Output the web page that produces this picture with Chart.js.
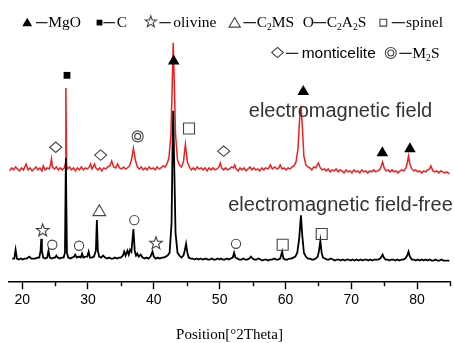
<!DOCTYPE html>
<html>
<head>
<meta charset="utf-8">
<script src="https://cdn.jsdelivr.net/npm/chart.js@4"></script>
<style>
  html, body { margin: 0; padding: 0; background: #fff; }
  #wrap { width: 454px; height: 343px; }
</style>
</head>
<body>
<div id="wrap"><canvas id="xrd"></canvas></div>
<script>
// red trace: with electromagnetic field (stacked above)
const redTheta = [
  18.1, 18.4, 18.7, 19.0, 19.3, 19.6, 19.9, 20.2, 20.6, 20.9,
  21.2, 21.5, 21.8, 22.1, 22.4, 22.7, 23.0, 23.2, 23.5, 23.8,
  24.1, 24.3, 24.45, 24.6, 24.9, 25.2, 25.5, 25.8, 26.1, 26.4,
  26.55, 26.64, 26.75, 26.9, 27.2, 27.5, 27.8, 28.1, 28.4, 28.7,
  29.0, 29.3, 29.6, 29.9, 30.2, 30.4, 30.6, 30.8, 31.0, 31.2,
  31.5, 31.8, 32.1, 32.4, 32.7, 33.0, 33.3, 33.6, 33.9, 34.2,
  34.5, 34.8, 35.1, 35.4, 35.7, 36.0, 36.3, 36.6, 36.9, 37.2,
  37.5, 37.8, 38.1, 38.4, 38.7, 39.0, 39.3, 39.6, 39.9, 40.2,
  40.5, 40.8, 41.1, 41.4, 41.7, 42.0, 42.3, 42.6, 42.8, 42.95,
  43.1, 43.3, 43.6, 43.9, 44.2, 44.5, 44.8, 45.1, 45.4, 45.7,
  46.0, 46.3, 46.6, 46.9, 47.2, 47.5, 47.8, 48.1, 48.4, 48.7,
  49.0, 49.3, 49.6, 49.9, 50.1, 50.3, 50.6, 50.9, 51.2, 51.5,
  51.8, 52.1, 52.3, 52.5, 52.8, 53.1, 53.4, 53.7, 54.0, 54.3,
  54.6, 54.9, 55.2, 55.5, 55.8, 56.1, 56.4, 56.7, 57.0, 57.4,
  57.7, 58.0, 58.4, 58.7, 59.0, 59.2, 59.5, 59.8, 60.1, 60.4,
  60.7, 61.0, 61.3, 61.6, 61.9, 62.15, 62.35, 62.55, 62.8, 63.1,
  63.4, 63.7, 64.0, 64.3, 64.6, 65.0, 65.3, 65.6, 65.9, 66.2,
  66.5, 66.8, 67.1, 67.4, 67.7, 68.0, 68.3, 68.6, 68.9, 69.2,
  69.5, 69.8, 70.1, 70.4, 70.7, 71.0, 71.3, 71.6, 71.9, 72.2,
  72.5, 72.8, 73.1, 73.4, 73.7, 74.0, 74.3, 74.5, 74.76, 75.0,
  75.3, 75.6, 75.9, 76.2, 76.5, 76.8, 77.1, 77.4, 77.7, 78.0,
  78.3, 78.5, 78.7, 78.9, 79.2, 79.5, 79.8, 80.1, 80.4, 80.7,
  81.0, 81.3, 81.6, 81.9, 82.1, 82.4, 82.7, 83.0, 83.3, 83.6,
  83.9, 84.2, 84.5, 84.9
];
const redCounts = [
  113, 116, 114, 117, 115, 113, 116, 114, 120, 114,
  116, 113, 115, 117, 114, 116, 113, 118, 114, 116,
  115, 119, 125, 117, 115, 117, 114, 116, 114, 116,
  120, 197, 119, 115, 117, 114, 116, 113, 116, 114,
  117, 114, 116, 115, 117, 120, 115, 117, 120, 116,
  114, 116, 113, 116, 115, 117, 118, 123, 117, 116,
  120, 116, 115, 117, 115, 116, 118, 124, 136, 124,
  117, 115, 117, 114, 116, 114, 117, 115, 116, 114,
  117, 115, 116, 118, 117, 120, 126, 150, 200, 243,
  205, 150, 124, 119, 117, 122, 140, 122, 117, 114,
  116, 114, 117, 115, 116, 114, 116, 113, 116, 114,
  116, 114, 115, 117, 121, 116, 114, 116, 114, 115,
  117, 116, 119, 115, 113, 116, 114, 116, 113, 115,
  117, 114, 116, 114, 115, 113, 116, 114, 116, 115,
  119, 115, 117, 115, 116, 119, 115, 116, 114, 116,
  115, 117, 118, 122, 135, 165, 179, 160, 128, 119,
  117, 116, 114, 117, 116, 121, 116, 114, 115, 113,
  115, 112, 114, 113, 115, 112, 114, 113, 111, 114,
  112, 113, 111, 114, 112, 113, 111, 114, 112, 113,
  111, 113, 112, 114, 112, 113, 114, 117, 122, 116,
  113, 114, 112, 114, 112, 113, 111, 113, 114, 113,
  116, 121, 128, 120, 115, 113, 114, 112, 113, 111,
  113, 112, 114, 115, 118, 113, 112, 113, 111, 113,
  112, 111, 112, 110
];

// black trace: electromagnetic field-free
const blackTheta = [
  18.5, 18.8, 19.0, 19.2, 19.5, 19.8, 20.1, 20.4, 20.7, 21.1,
  21.4, 21.7, 22.0, 22.3, 22.6, 22.8, 22.9, 23.0, 23.2, 23.5,
  23.8, 24.0, 24.2, 24.5, 24.8, 25.0, 25.2, 25.4, 25.7, 26.0,
  26.3, 26.5, 26.64, 26.8, 27.0, 27.3, 27.6, 27.9, 28.05, 28.3,
  28.6, 28.9, 29.1, 29.3, 29.6, 29.9, 30.1, 30.3, 30.6, 30.9,
  31.2, 31.35, 31.5, 31.7, 32.0, 32.3, 32.6, 32.9, 33.2, 33.5,
  33.8, 34.1, 34.4, 34.7, 35.0, 35.3, 35.5, 35.7, 36.0, 36.2,
  36.4, 36.6, 36.9, 37.1, 37.3, 37.5, 37.7, 38.0, 38.3, 38.6,
  38.9, 39.2, 39.5, 39.8, 40.0, 40.3, 40.6, 40.9, 41.2, 41.5,
  41.8, 42.1, 42.4, 42.7, 42.85, 42.95, 43.1, 43.3, 43.6, 43.9,
  44.2, 44.5, 44.7, 44.9, 45.1, 45.3, 45.6, 45.9, 46.2, 46.5,
  46.8, 47.1, 47.4, 47.9, 48.2, 48.5, 48.8, 49.1, 49.4, 49.7,
  50.0, 50.2, 50.5, 50.8, 51.1, 51.4, 51.7, 52.0, 52.2, 52.4,
  52.7, 53.0, 53.3, 53.6, 53.9, 54.2, 54.5, 54.75, 55.0, 55.3,
  55.6, 55.9, 56.2, 56.5, 56.8, 57.1, 57.4, 57.7, 58.0, 58.3,
  58.6, 58.9, 59.2, 59.5, 59.7, 60.0, 60.3, 60.6, 60.9, 61.2,
  61.5, 61.8, 62.1, 62.35, 62.55, 62.8, 63.1, 63.4, 63.7, 64.0,
  64.3, 64.6, 64.9, 65.1, 65.3, 65.5, 65.7, 66.0, 66.3, 66.6,
  66.9, 67.2, 67.5, 67.8, 68.1, 68.4, 68.7, 69.0, 69.3, 69.6,
  69.9, 70.2, 70.5, 70.8, 71.1, 71.4, 71.7, 72.0, 72.3, 72.6,
  72.9, 73.2, 73.5, 73.8, 74.1, 74.4, 74.6, 74.76, 74.95, 75.2,
  75.5, 75.8, 76.1, 76.4, 76.7, 77.0, 77.3, 77.6, 77.9, 78.2,
  78.5, 78.7, 78.9, 79.2, 79.5, 79.8, 80.1, 80.4, 80.7, 81.0,
  81.3, 81.6, 81.9, 82.2, 82.5, 82.8, 83.1, 83.4, 83.7, 84.0,
  84.3, 84.6, 84.9
];
const blackCounts = [
  24, 24, 33, 24, 23, 24, 23, 24, 24, 26,
  24, 24, 24, 25, 25, 32, 44, 32, 25, 24,
  25, 32, 25, 24, 25, 25, 27, 25, 24, 25,
  25, 30, 126, 30, 25, 24, 25, 26, 28, 25,
  26, 25, 29, 25, 26, 26, 31, 25, 25, 26,
  32, 63, 32, 26, 25, 27, 25, 24, 25, 24,
  24, 25, 24, 25, 25, 27, 31, 27, 32, 28,
  33, 31, 54, 32, 27, 29, 26, 28, 25, 24,
  25, 24, 26, 31, 26, 24, 25, 24, 25, 25,
  26, 27, 30, 60, 140, 174, 120, 50, 30, 27,
  25, 27, 32, 39, 30, 25, 24, 24, 23, 24,
  23, 24, 23, 24, 23, 23, 24, 23, 23, 24,
  23, 24, 23, 23, 24, 23, 24, 25, 30, 25,
  24, 23, 23, 24, 23, 23, 24, 26, 24, 23,
  23, 24, 23, 22, 23, 23, 22, 23, 23, 24,
  23, 23, 24, 31, 24, 23, 23, 24, 24, 25,
  26, 30, 45, 68, 48, 30, 26, 24, 24, 23,
  23, 24, 26, 32, 42, 30, 25, 24, 23, 23,
  24, 23, 22, 23, 23, 22, 23, 22, 23, 23,
  22, 23, 22, 23, 22, 23, 22, 23, 23, 22,
  23, 22, 23, 23, 23, 24, 26, 28, 25, 23,
  23, 22, 23, 23, 22, 23, 22, 23, 23, 24,
  27, 31, 26, 23, 23, 22, 23, 22, 23, 22,
  23, 22, 23, 22, 22, 23, 22, 22, 23, 22,
  22, 22, 22
];

// phase marks over the peaks
const markTheta = [25.1, 26.81, 31.93, 37.55, 43.02, 45.35, 50.62, 62.71, 74.72, 78.92,
                   23.12, 24.58, 28.64, 31.72, 37.04, 40.33, 52.49, 59.58, 65.51];
const markLevel = [137, 210, 129, 148, 226, 156, 133, 195, 133, 137,
                   53, 38, 37, 73, 63, 40, 39, 38, 49];
const markKind = ['dia', 'sq', 'dia', 'dcirc', 'tri', 'osq', 'dia', 'tri', 'tri', 'tri',
                  'star', 'circ', 'circ', 'otri', 'circ', 'star', 'circ', 'osq', 'osq'];

const majorTicks = [20, 30, 40, 50, 60, 70, 80];
const minorTicks = [25, 35, 45, 55, 65, 75, 85];

const SERIF = '"Liberation Serif", "Times New Roman", serif';
const SANS = '"Liberation Sans", Arial, sans-serif';
const OUTLINE = '#444';

function toPoints(xs, ys) {
  return xs.map((x, i) => ({ x: x, y: ys[i] }));
}

function drawMark(ctx, kind, cx, cy, s) {
  s = s || 1;
  ctx.save();
  ctx.lineWidth = 1.1;
  ctx.strokeStyle = OUTLINE;
  ctx.fillStyle = '#000';
  ctx.beginPath();
  if (kind === 'tri') {
    ctx.moveTo(cx, cy - 5 * s);
    ctx.lineTo(cx - 5.8 * s, cy + 5 * s);
    ctx.lineTo(cx + 5.8 * s, cy + 5 * s);
    ctx.closePath();
    ctx.fill();
  } else if (kind === 'otri') {
    ctx.moveTo(cx, cy - 5.4 * s);
    ctx.lineTo(cx - 6.3 * s, cy + 5.3 * s);
    ctx.lineTo(cx + 6.3 * s, cy + 5.3 * s);
    ctx.closePath();
    ctx.stroke();
  } else if (kind === 'sq') {
    ctx.fillRect(cx - 3.4 * s, cy - 3.4 * s, 6.8 * s, 6.8 * s);
  } else if (kind === 'osq') {
    ctx.rect(cx - 5.5 * s, cy - 5.5 * s, 11 * s, 11 * s);
    ctx.stroke();
  } else if (kind === 'dia') {
    ctx.moveTo(cx, cy - 5.2 * s);
    ctx.lineTo(cx + 6 * s, cy);
    ctx.lineTo(cx, cy + 5.2 * s);
    ctx.lineTo(cx - 6 * s, cy);
    ctx.closePath();
    ctx.stroke();
  } else if (kind === 'circ') {
    ctx.arc(cx, cy, 4.6 * s, 0, Math.PI * 2);
    ctx.stroke();
  } else if (kind === 'dcirc') {
    ctx.arc(cx, cy, 5.5 * s, 0, Math.PI * 2);
    ctx.stroke();
    ctx.beginPath();
    ctx.arc(cx, cy, 3 * s, 0, Math.PI * 2);
    ctx.stroke();
  } else if (kind === 'star') {
    for (let k = 0; k < 10; k++) {
      const r = (k % 2 === 0) ? 6.6 * s : 2.7 * s;
      const a = -Math.PI / 2 + k * Math.PI / 5;
      const px = cx + r * Math.cos(a), py = cy + 0.6 + r * Math.sin(a);
      if (k === 0) ctx.moveTo(px, py); else ctx.lineTo(px, py);
    }
    ctx.closePath();
    ctx.stroke();
  }
  ctx.restore();
}

// text with subscripts: parts like ['C', ['2'], 'MS']
function drawRich(ctx, x, y, parts, size, family) {
  parts.forEach(p => {
    if (Array.isArray(p)) {
      ctx.font = (size * 0.62) + 'px ' + family;
      ctx.fillText(p[0], x, y + 3);
      x += ctx.measureText(p[0]).width;
    } else {
      ctx.font = size + 'px ' + family;
      ctx.fillText(p, x, y);
      x += ctx.measureText(p).width;
    }
  });
}

const legendItems = [
  { kind: 'tri', cx: 27.2, cy: 22, s: 0.85, d: [36, 47.5], lx: 48.3, label: ['MgO'], font: SERIF, row: 0 },
  { kind: 'sq', cx: 99.5, cy: 22.6, s: 0.85, d: [103.3, 115], lx: 116.7, label: ['C'], font: SERIF, row: 0 },
  { kind: 'star', cx: 150.8, cy: 21.3, s: 0.9, d: [159.3, 170.7], lx: 173.3, label: ['olivine'], font: SERIF, row: 0 },
  { kind: 'otri', cx: 234.7, cy: 22.4, s: 0.9, d: [243.3, 256], lx: 256.7, label: ['C', ['2'], 'MS'], font: SERIF, row: 0 },
  { kind: 'O', cx: 302.7, cy: 22, s: 1, d: [313.3, 326], lx: 326.7, label: ['C', ['2'], 'A', ['2'], 'S'], font: SERIF, row: 0 },
  { kind: 'osq', cx: 383.3, cy: 22.7, s: 0.62, d: [391.7, 405], lx: 406, label: ['spinel'], font: SERIF, row: 0 },
  { kind: 'dia', cx: 277.5, cy: 52.5, s: 0.97, d: [286, 298.3], lx: 301.7, label: ['monticelite'], font: SANS, row: 1 },
  { kind: 'dcirc', cx: 390.8, cy: 53, s: 1, d: [399.3, 411.7], lx: 412.3, label: ['M', ['2'], 'S'], font: SERIF, row: 1 }
];
const rowBase = [27, 57.5];
const rowDash = [22.7, 53.3];

const xrdDecor = {
  id: 'xrdDecor',
  afterDraw(chart) {
    const ctx = chart.ctx;
    const xs = chart.scales.x, ys = chart.scales.y;
    const bottom = chart.chartArea.bottom;

    // minor ticks
    ctx.save();
    ctx.strokeStyle = '#000';
    ctx.lineWidth = 1.4;
    minorTicks.forEach(v => {
      const px = Math.round(xs.getPixelForValue(v)) + 0.5;
      ctx.beginPath();
      ctx.moveTo(px, bottom);
      ctx.lineTo(px, bottom + 4);
      ctx.stroke();
    });
    ctx.restore();

    // peak marks
    markTheta.forEach((t, i) => {
      drawMark(ctx, markKind[i], xs.getPixelForValue(t), ys.getPixelForValue(markLevel[i]), 1);
    });

    // curve labels
    ctx.save();
    ctx.fillStyle = '#333';
    ctx.font = '20px ' + SANS;
    ctx.textAlign = 'center';
    ctx.textBaseline = 'alphabetic';
    ctx.fillText('electromagnetic field', 340.5, 116.5);
    ctx.fillText('electromagnetic field-free', 340.5, 210.5);
    ctx.restore();

    // legend
    ctx.save();
    ctx.fillStyle = '#000';
    ctx.textAlign = 'left';
    ctx.textBaseline = 'alphabetic';
    legendItems.forEach(it => {
      if (it.kind === 'O') {
        ctx.font = '15.5px ' + SERIF;
        ctx.fillText('O', it.cx, rowBase[it.row]);
      } else {
        drawMark(ctx, it.kind, it.cx, it.cy, it.s);
      }
      ctx.strokeStyle = '#000';
      ctx.lineWidth = 1.1;
      ctx.beginPath();
      ctx.moveTo(it.d[0], rowDash[it.row]);
      ctx.lineTo(it.d[1], rowDash[it.row]);
      ctx.stroke();
      drawRich(ctx, it.lx, rowBase[it.row], it.label, 15.5, it.font);
    });
    ctx.restore();
  }
};

new Chart(document.getElementById('xrd'), {
  type: 'line',
  data: {
    datasets: [{
      label: 'electromagnetic field',
      data: toPoints(redTheta, redCounts),
      borderColor: '#f01e1e',
      borderWidth: 1.5,
      pointRadius: 0,
      tension: 0,
      order: 2
    }, {
      label: 'electromagnetic field-free',
      data: toPoints(blackTheta, blackCounts),
      borderColor: '#000',
      borderWidth: 1.8,
      pointRadius: 0,
      tension: 0,
      order: 1
    }]
  },
  options: {
    responsive: true,
    maintainAspectRatio: false,
    animation: false,
    layout: {
      padding: { top: 30, left: 9, right: 4, bottom: 0 }
    },
    plugins: {
      legend: { display: false },
      tooltip: { enabled: false }
    },
    scales: {
      x: {
        type: 'linear',
        min: 18,
        max: 85,
        afterBuildTicks: axis => {
          axis.ticks = majorTicks.map(v => ({ value: v }));
        },
        grid: {
          drawOnChartArea: false,
          drawTicks: true,
          tickLength: 7,
          tickWidth: 1.4,
          tickColor: '#000'
        },
        border: { display: true, color: '#000', width: 1.6 },
        ticks: {
          color: '#000',
          padding: 3,
          maxRotation: 0,
          font: { family: SANS, size: 14 }
        },
        title: {
          display: true,
          text: 'Position[°2Theta]',
          color: '#000',
          padding: { top: 16, bottom: 0 },
          font: { family: SERIF, size: 15, lineHeight: 1 }
        }
      },
      y: {
        display: false,
        min: 0,
        max: 256
      }
    }
  },
  plugins: [xrdDecor]
});
</script>
</body>
</html>
